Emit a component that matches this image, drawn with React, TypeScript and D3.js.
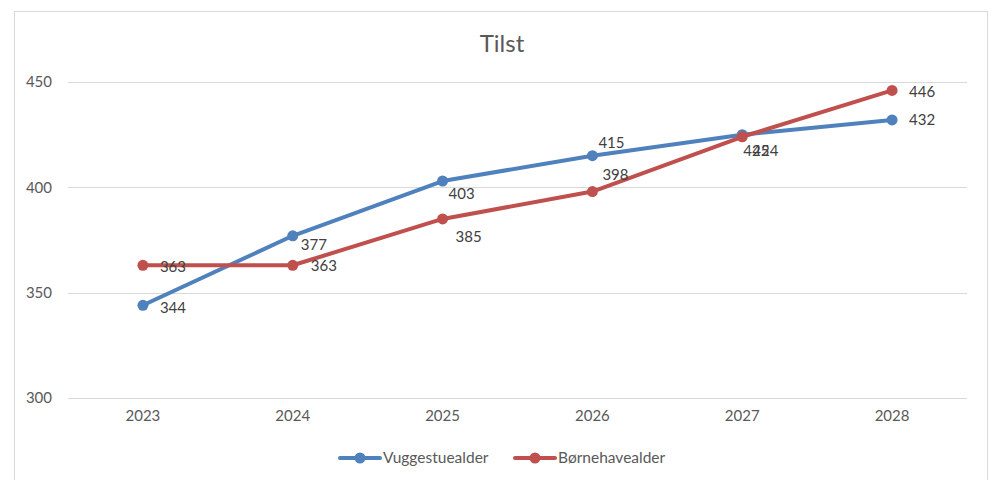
import * as d3 from 'd3'

const years = ['2023', '2024', '2025', '2026', '2027', '2028']
const vuggestue = [344, 377, 403, 415, 425, 432]
const boernehave = [363, 363, 385, 398, 424, 446]
const yTicks = [300, 350, 400, 450]

// label nudges (dx from point to text start, dy to text middle), as Excel placed them
const vugLabelPos = [[17, 2], [8, 9], [6, 13], [6, -13], [1, 16], [17, 0]]
const boeLabelPos = [[17, 1], [18, 0], [13, 18], [10, -17], [10, 14], [17, 1]]

const series = [
  { name: 'Vuggestuealder', values: vuggestue, color: '#4F81BD', labels: vugLabelPos },
  { name: 'Børnehavealder', values: boernehave, color: '#C0504D', labels: boeLabelPos },
]

const W = 1005
const H = 480
const margin = { top: 82, right: 38, bottom: 82, left: 68 }
const font = 'Lato, "Open Sans", sans-serif'
const textColor = '#595959'

const App = () => {
  const x = d3.scaleBand().domain(years).range([margin.left, W - margin.right])
  const y = d3.scaleLinear().domain([300, 450]).range([H - margin.bottom, margin.top])
  const cx = (yr: string) => (x(yr) as number) + x.bandwidth() / 2

  const line = d3.line<number>()
    .x((_, i) => cx(years[i]))
    .y(d => y(d))

  return (
    <svg width={W} height={H} style={{ position: 'absolute', left: 0, top: 0, fontFamily: font }}>
      <rect x={0} y={0} width={W} height={H} fill="#fff" />
      <rect x={14.5} y={11.5} width={973} height={500} fill="#fff" stroke="#d9d9d9" strokeWidth={1} />

      <text x={502} y={52} textAnchor="middle" fontSize={24} fill={textColor}>Tilst</text>

      {yTicks.map(t => (
        <g key={t}>
          <line x1={margin.left} x2={W - margin.right} y1={Math.round(y(t)) + 0.5} y2={Math.round(y(t)) + 0.5}
            stroke="#d9d9d9" strokeWidth={1} />
          <text x={52} y={y(t)} dy="0.35em" textAnchor="end" fontSize={15} fill={textColor}>{t}</text>
        </g>
      ))}

      {years.map(yr => (
        <text key={yr} x={cx(yr)} y={y(300) + 23} textAnchor="middle" fontSize={15} fill={textColor}>{yr}</text>
      ))}

      {series.map(s => (
        <g key={s.name}>
          <path d={line(s.values) || ''} fill="none" stroke={s.color} strokeWidth={4} strokeLinecap="round"
            strokeLinejoin="round" />
          {s.values.map((v, i) => (
            <circle key={i} cx={cx(years[i])} cy={y(v)} r={5.5} fill={s.color} />
          ))}
        </g>
      ))}

      {series.map(s => (
        <g key={s.name + '-labels'}>
          {s.values.map((v, i) => (
            <text key={i} x={cx(years[i]) + s.labels[i][0]} y={y(v) + s.labels[i][1]} dy="0.35em"
              fontSize={15} fill="#404040">{v}</text>
          ))}
        </g>
      ))}

      {series.map((s, i) => {
        const lx = 340 + i * 175
        return (
          <g key={s.name + '-legend'}>
            <line x1={lx} x2={lx + 40} y1={458} y2={458} stroke={s.color} strokeWidth={4} strokeLinecap="round" />
            <circle cx={lx + 20} cy={458} r={5.5} fill={s.color} />
            <text x={lx + 43} y={458} dy="0.35em" fontSize={15.5} fill={textColor}>{s.name}</text>
          </g>
        )
      })}
    </svg>
  )
}

export default App
